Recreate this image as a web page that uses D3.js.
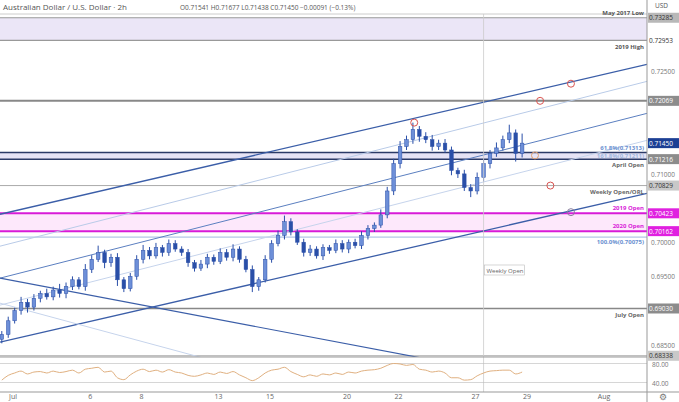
<!DOCTYPE html>
<html><head><meta charset="utf-8">
<script src="https://cdn.jsdelivr.net/npm/d3@7"></script>
<style>body{margin:0;background:#fff;}svg{font-family:"Open Sans",sans-serif;}</style>
</head><body>
<svg id="c" width="679" height="402"></svg>
<script>
// 6h candles, first bar at day index -0.75, step 0.25 (day 0 = Jul 1)
var closes = [0.6865,0.6885,0.6900,0.6912,0.6905,0.6918,0.6925,0.6920,0.6930,0.6925,
  0.6935,0.6945,0.6935,0.6960,0.6975,0.6985,0.6970,0.6978,0.6945,0.6932,
  0.6950,0.6975,0.6988,0.6980,0.6992,0.6985,0.6998,0.6990,0.6985,0.6970,
  0.6962,0.6968,0.6978,0.6972,0.6985,0.6978,0.6990,0.6975,0.6960,0.6935,
  0.6945,0.6975,0.6998,0.7010,0.7030,0.7015,0.7000,0.6985,0.6990,0.6980,
  0.6992,0.6988,0.6998,0.6990,0.7000,0.6995,0.7010,0.7020,0.7025,0.7040,
  0.7075,0.7115,0.7140,0.7150,0.7165,0.7155,0.7150,0.7140,0.7145,0.7135,
  0.7105,0.7100,0.7080,0.7075,0.7095,0.7115,0.7130,0.7138,0.7150,0.7160,
  0.7130,0.7145];
var wickUp = [5,6,4,8,5,6,4,7,5,9,6,5,4,8,6,10,4,5,6,4,5,6,8,5,7,4,6,5,4,5,
  4,6,5,4,6,5,7,4,5,6,4,6,5,7,9,5,4,5,6,4,5,4,6,5,4,5,6,5,4,8,
  6,7,8,6,10,5,6,7,5,6,5,4,6,5,7,6,5,8,6,12,5,14];
var wickDn = [6,5,4,6,8,5,6,4,5,6,7,5,4,6,5,4,8,6,9,5,4,5,6,5,4,6,5,4,5,6,
  5,4,6,5,4,5,6,5,4,8,6,4,5,4,6,5,4,6,5,4,6,5,4,5,6,4,5,6,5,4,
  5,6,7,5,6,8,5,6,5,4,7,6,5,9,5,6,7,5,4,5,12,6];
var rsi = [45,55,60,64,58,62,63,60,64,61,63,66,60,68,70,72,62,64,50,46,
  56,64,68,63,66,62,67,62,60,55,53,56,60,57,62,59,63,56,50,44,
  50,60,66,68,72,63,57,52,56,53,58,56,60,57,62,60,64,66,67,70,
  76,80,79,76,78,68,66,62,64,60,50,50,45,46,54,60,64,65,66,66,58,62];
var hLevels = [
  {p:0.73285, label:'May 2017 Low', col:'#999', w:1.2, box:'#b8b8b8', tc:'#333', dy:-3},
  {p:0.72953, label:'2019 High', col:'#999', w:1.2, box:'#fff', tc:'#333', dy:9},
  {p:0.72069, label:'', col:'#888', w:2, box:'#8c8c8c', tc:'#fff', dy:0},
  {p:0.71313, label:'61.8%(0.71313)', col:'#2b3a67', w:1.5, box:null, tc:'#6a8fd0', dy:-2},
  {p:0.71216, label:'161.8%(0.71211)', col:'#2b3a67', w:1.5, box:'#8c8c8c', tc:'#9fb7e0', dy:-1},
  {p:0.70829, label:'Weekly Open/ORL', col:'#aaa', w:1, box:'#c8c8c8', tc:'#666', dy:8},
  {p:0.70423, label:'2019 Open', col:'#d81bd8', w:2, box:'#e020e0', tc:'#d81bd8', dy:-3},
  {p:0.70162, label:'2020 Open', col:'#d81bd8', w:2, box:'#e020e0', tc:'#d81bd8', dy:-3},
  {p:0.70075, label:'100.0%(0.70075)', col:'#9fb7e0', w:1, box:null, tc:'#6a8fd0', dy:7},
  {p:0.69030, label:'July Open', col:'#888', w:1.5, box:'#8c8c8c', tc:'#666', dy:9},
  {p:0.68338, label:'', col:'#aaa', w:1, box:'#c8c8c8', tc:'#666', dy:0}];
var bands = [[0.72953,0.73285,'#ebe6f7'],[0.71216,0.71313,'#e6e3f5'],[0.70162,0.70423,'#fde8fb']];
var priceTicks = [0.725,0.710,0.700,0.695,0.685];
// trendlines: [d1, p1, d2, p2, colour, width]
var trendLines = [
  [-0.82,0.70409,24.36,0.72602,'#3b5ea8',1.3],
  [-0.82,0.69942,24.36,0.72354,'#b9cbe8',1],
  [-0.82,0.69474,24.36,0.71886,'#5b7fc0',1],
  [-0.82,0.69079,24.36,0.71491,'#c6d4ec',1],
  [-0.82,0.68538,24.36,0.70716,'#3b5ea8',1.3],
  [-0.82,0.69474,17.6,0.68162,'#3b5ea8',1.2],
  [-0.82,0.69108,8.5,0.68162,'#c6d4ec',1]];
var circles = [[15.3,0.7175,'#d9534f'],[20.2,0.72069,'#d9534f'],[21.4,0.7232,'#d9534f'],
  [20.0,0.7127,'#e0a070'],[20.6,0.70829,'#d9534f'],[21.4,0.7044,'#8a7fa0']];
var dayTicks = [[0,'Jul'],[3,'6'],[5,'8'],[8,'13'],[10,'15'],[13,'20'],[15,'22'],[18,'27'],[20,'29'],[23,'Aug']];
var lastClose = 0.71450;

var svg = d3.select('#c');
var plotW = 647, plotTop = 14, plotBot = 357;
var x = d3.scaleLinear().domain([-0.82, 24.36]).range([0, plotW]);
var y = d3.scaleLinear().domain([0.6832, 0.7334]).range([plotBot, plotTop]);
var yr = d3.scaleLinear().domain([20, 100]).range([392, 354]);

svg.append('text').attr('x', 3).attr('y', 10).attr('font-size', 8).attr('fill', '#555')
  .text('Australian Dollar / U.S. Dollar · 2h');
svg.append('text').attr('x', 180).attr('y', 10).attr('font-size', 6.5).attr('fill', '#555')
  .text('O0.71541  H0.71677  L0.71438  C0.71450  −0.00091 (−0.13%)');
svg.append('line').attr('x1', 0).attr('x2', plotW).attr('y1', plotTop).attr('y2', plotTop).attr('stroke', '#ccc');

var g = svg.append('g');
g.append('clipPath').attr('id', 'clip').append('rect').attr('x', 0).attr('y', plotTop).attr('width', plotW).attr('height', plotBot - plotTop);
var pg = g.append('g').attr('clip-path', 'url(#clip)');

bands.forEach(function(b){
  pg.append('rect').attr('x', 0).attr('width', plotW).attr('y', y(b[1])).attr('height', y(b[0]) - y(b[1])).attr('fill', b[2]);
});
hLevels.forEach(function(l){
  pg.append('line').attr('x1', 0).attr('x2', plotW).attr('y1', y(l.p)).attr('y2', y(l.p))
    .attr('stroke', l.col).attr('stroke-width', l.w);
});
// weekly open vertical
svg.append('line').attr('x1', x(18)).attr('x2', x(18)).attr('y1', plotTop).attr('y2', 392)
  .attr('stroke', '#ccc').attr('stroke-width', 0.8);
trendLines.forEach(function(t){
  pg.append('line').attr('x1', x(t[0])).attr('y1', y(t[1])).attr('x2', x(t[2])).attr('y2', y(t[3]))
    .attr('stroke', t[4]).attr('stroke-width', t[5]);
});

// candles
var step = 0.25;
closes.forEach(function(c, i){
  var o = i === 0 ? 0.6858 : closes[i - 1];
  var cx = x(-0.75 + i * step);
  var hi = Math.max(o, c) + wickUp[i] / 10000, lo = Math.min(o, c) - wickDn[i] / 10000;
  pg.append('line').attr('x1', cx).attr('x2', cx).attr('y1', y(hi)).attr('y2', y(lo)).attr('stroke', '#2a4fa8').attr('stroke-width', 1);
  pg.append('rect').attr('x', cx - 1.8).attr('width', 3.6)
    .attr('y', y(Math.max(o, c))).attr('height', Math.max(1, Math.abs(y(o) - y(c))))
    .attr('fill', c >= o ? '#6d8fd8' : '#2a4fa8').attr('stroke', '#2a4fa8').attr('stroke-width', 0.5);
});

circles.forEach(function(c){
  pg.append('circle').attr('cx', x(c[0])).attr('cy', y(c[1])).attr('r', 3.5)
    .attr('fill', 'none').attr('stroke', c[2]).attr('stroke-width', 1);
});

// level labels (drawn outside the clip so the top one shows)
hLevels.forEach(function(l){
  if (!l.label) return;
  svg.append('text').attr('x', plotW - 3).attr('y', y(l.p) + l.dy)
    .attr('text-anchor', 'end').attr('font-size', 6).attr('font-weight', 'bold')
    .attr('fill', l.tc === '#fff' || l.tc === '#333' ? '#555' : l.tc).text(l.label);
});
svg.append('text').attr('x', plotW - 3).attr('y', y(0.71216) + 8).attr('text-anchor', 'end')
  .attr('font-size', 6).attr('fill', '#666').attr('font-weight', 'bold').text('April Open');
pg.append('rect').attr('x', x(18) + 1).attr('y', 265).attr('width', 40).attr('height', 10).attr('fill', '#fff').attr('stroke', '#bbb').attr('stroke-width', 0.6);
pg.append('text').attr('x', x(18) + 3).attr('y', 272.5).attr('font-size', 6).attr('fill', '#666').text('Weekly Open');

// RSI panel
svg.append('line').attr('x1', 0).attr('x2', plotW).attr('y1', 357).attr('y2', 357).attr('stroke', '#999');
[80, 40].forEach(function(v){
  svg.append('line').attr('x1', 0).attr('x2', plotW).attr('y1', yr(v)).attr('y2', yr(v)).attr('stroke', '#bbb').attr('stroke-width', 0.6);
});
var rl = d3.line().x(function(d, i){ return x(-0.75 + i * step); }).y(function(d){ return yr(d); }).curve(d3.curveMonotoneX);
svg.append('path').datum(rsi).attr('d', rl).attr('fill', 'none').attr('stroke', '#e0b080').attr('stroke-width', 1);
svg.append('line').attr('x1', 0).attr('x2', 679).attr('y1', 392).attr('y2', 392).attr('stroke', '#999');

// right axis
svg.append('line').attr('x1', plotW).attr('x2', plotW).attr('y1', 0).attr('y2', 402).attr('stroke', '#999');
priceTicks.forEach(function(p){
  svg.append('text').attr('x', plotW + 4).attr('y', y(p) + 3).attr('font-size', 6.5).attr('fill', '#777').text(d3.format('.5f')(p));
});
svg.append('text').attr('x', plotW + 8).attr('y', 8).attr('font-size', 6.5).attr('fill', '#555').text('USD');
hLevels.forEach(function(l){
  if (!l.box) return;
  svg.append('rect').attr('x', plotW + 1).attr('y', y(l.p) - 5).attr('width', 31).attr('height', 10).attr('fill', l.box);
  svg.append('text').attr('x', plotW + 2).attr('y', y(l.p) + 2.5).attr('font-size', 6.5)
    .attr('fill', l.box === '#fff' || l.box === '#c8c8c8' || l.box === '#b8b8b8' ? '#333' : '#fff').text(d3.format('.5f')(l.p));
});
svg.append('rect').attr('x', plotW + 1).attr('y', y(lastClose) - 5).attr('width', 31).attr('height', 10).attr('fill', '#1c3f94');
svg.append('text').attr('x', plotW + 2).attr('y', y(lastClose) + 2.5).attr('font-size', 6.5).attr('fill', '#fff').text(d3.format('.5f')(lastClose));
[80, 40].forEach(function(v){
  svg.append('text').attr('x', plotW + 5).attr('y', yr(v) + 3).attr('font-size', 6.5).attr('fill', '#777').text(d3.format('.2f')(v));
});

// bottom axis
dayTicks.forEach(function(t){
  svg.append('text').attr('x', x(t[0]) - 8).attr('y', 399).attr('text-anchor', 'middle').attr('font-size', 7).attr('fill', '#666').text(t[1]);
});
svg.append('text').attr('x', 663).attr('y', 400).attr('text-anchor', 'middle').attr('font-size', 9).attr('fill', '#777').text('⚙');
</script>
</body></html>
